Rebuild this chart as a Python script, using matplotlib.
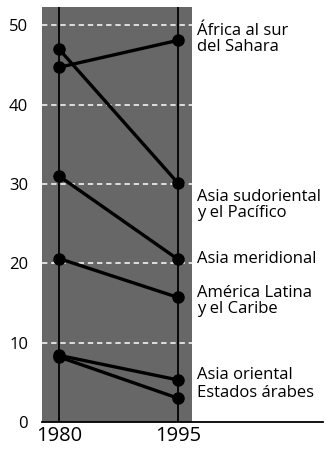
import matplotlib
matplotlib.use("Agg")
import matplotlib.pyplot as plt

years = [1980, 1995]
regions = ["África al sur\ndel Sahara", "Asia sudoriental\ny el Pacífico", "Asia meridional",
           "América Latina\ny el Caribe", "Asia oriental", "Estados árabes"]
v1980 = [44.7, 47.0, 31.0, 20.6, 8.4, 8.2]
v1995 = [48.1, 30.1, 20.5, 15.7, 5.3, 3.0]
label_y = [48.3, 27.4, 20.5, 15.2, 5.9, 3.6]
yticks = [0, 10, 20, 30, 40, 50]

plt.rcParams['font.family'] = ['Open Sans', 'DejaVu Sans']
fig = plt.figure(figsize=(3.29, 4.49), dpi=100)
ax = fig.add_axes([42/329, 27/449, (323-42)/329, (422-7)/449])
px = 15/119.0
xl = 1980 - 17*px
xr = 1980 + (323-59)*px
ax.set_xlim(xl, xr)
ax.set_ylim(0, 52.3)

gx1 = 1995 + 14*px
ax.axvspan(xl, gx1, color='#676767', lw=0, zorder=0)
for yv in yticks[1:]:
    ax.plot([xl, gx1], [yv, yv], color='white', lw=1.1, ls=(0, (3.5, 2.5)), zorder=1)
for yr in years:
    ax.axvline(yr, color='black', lw=1.3, zorder=2)

for a, b in zip(v1980, v1995):
    ax.plot(years, [a, b], color='black', lw=2.4, marker='o', ms=8, solid_capstyle='round', zorder=3)

for lab, ly in zip(regions, label_y):
    ax.text(1995 + 19*px, ly, lab, va='center', ha='left', fontsize=12, linespacing=1.0)

for s in ['top', 'right', 'left']:
    ax.spines[s].set_visible(False)
ax.spines['bottom'].set_linewidth(1.3)
ax.set_yticks(yticks)
ax.set_yticklabels([str(t) for t in yticks], fontsize=12)
ax.set_xticks(years)
ax.set_xticklabels([str(y) for y in years], fontsize=14.5)
ax.tick_params(axis='y', length=0, pad=10)
ax.tick_params(axis='x', length=0, pad=3)

fig.savefig("out.png", dpi=100)
